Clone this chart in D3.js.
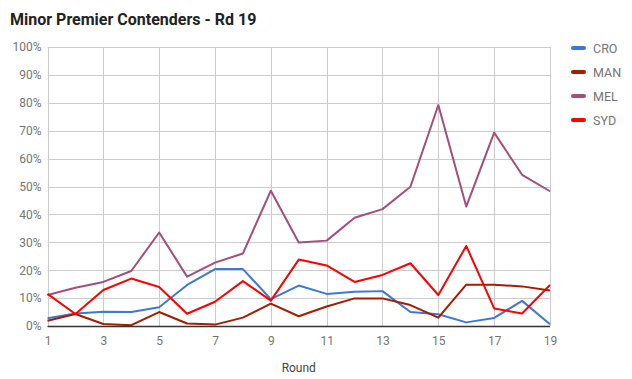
<!DOCTYPE html>
<html><head><meta charset="utf-8">
<script src="https://cdn.jsdelivr.net/npm/d3@7"></script>
<style>body{margin:0;background:#fff;}svg{display:block;font-family:Roboto,sans-serif;}</style>
</head><body><svg id="c" width="632" height="379"></svg>
<script>
const rounds = [1,2,3,4,5,6,7,8,9,10,11,12,13,14,15,16,17,18,19];
const seriesNames = ["CRO","MAN","MEL","SYD"];
const seriesColors = ["#3c78d8","#a61c00","#a64d79","#ff0000"];
const CRO = [2.8,4.5,5.1,5.0,6.7,14.7,20.4,20.4,9.6,14.5,11.5,12.3,12.5,5.0,4.2,1.3,2.9,9.0,0.6];
const MAN = [1.9,4.3,0.7,0.3,5.0,0.9,0.5,3.0,8.0,3.5,7.0,9.9,9.9,7.5,3.0,14.8,14.8,14.2,12.7];
const MEL = [11.1,13.7,15.8,19.7,33.5,17.7,22.7,26.0,48.5,29.9,30.6,38.8,41.9,49.9,79.2,42.8,69.3,54.2,48.3];
const SYD = [11.5,4.3,12.9,17.0,14.0,4.4,8.7,16.1,9.1,23.8,21.7,15.8,18.3,22.5,11.1,28.7,6.3,4.5,14.7];
const xTicks = [1,3,5,7,9,11,13,15,17,19];
const yTicks = [0,10,20,30,40,50,60,70,80,90,100];
const title = "Minor Premier Contenders - Rd 19";
const xTitle = "Round";

const values = [CRO, MAN, MEL, SYD];
const svg = d3.select("#c");
const L = 47.5, R = 550, T = 47, B = 326;
const x = d3.scaleLinear().domain([1,19]).range([L,R]);
const y = d3.scaleLinear().domain([0,100]).range([B,T]);

svg.append("text").attr("x",10).attr("y",25).attr("font-size",16).attr("font-weight","bold").attr("fill","#222").text(title);

// grid
const g = svg.append("g");
g.selectAll(".hg").data(yTicks.filter(d=>d>0)).join("line")
  .attr("x1",L).attr("x2",R).attr("y1",d=>Math.round(y(d))+0.5).attr("y2",d=>Math.round(y(d))+0.5)
  .attr("stroke","#cccccc").attr("stroke-width",1);
g.selectAll(".vg").data(xTicks).join("line")
  .attr("y1",T).attr("y2",B).attr("x1",d=>Math.round(x(d))+0.5).attr("x2",d=>Math.round(x(d))+0.5)
  .attr("stroke","#cccccc").attr("stroke-width",1);

// y labels
const yAxis = d3.axisLeft(y).tickValues(yTicks).tickFormat(d=>d+"%").tickSize(0).tickPadding(6);
const ya = svg.append("g").attr("transform",`translate(${L},0)`).call(yAxis);
ya.select(".domain").remove();
ya.selectAll("text").attr("font-size",12).attr("fill","#757575").attr("font-family","Roboto,sans-serif");

const xAxis = d3.axisBottom(x).tickValues(xTicks).tickSize(0).tickPadding(10);
const xa = svg.append("g").attr("transform",`translate(0,${B})`).call(xAxis);
xa.select(".domain").remove();
xa.selectAll("text").attr("font-size",12).attr("fill","#757575").attr("font-family","Roboto,sans-serif");

svg.append("text").attr("x",(L+R)/2).attr("y",372).attr("text-anchor","middle").attr("font-size",12).attr("fill","#444").text(xTitle);

// lines
const line = d3.line().x((d,i)=>x(rounds[i])).y(d=>y(d));
values.forEach((v,i)=>{
  svg.append("path").datum(v).attr("d",line).attr("fill","none")
    .attr("stroke",seriesColors[i]).attr("stroke-width",2).attr("stroke-linejoin","round");
});

// baseline
svg.append("line").attr("x1",L).attr("x2",R).attr("y1",B+0.5).attr("y2",B+0.5).attr("stroke","#333").attr("stroke-width",1.5);

// legend
const lg = svg.append("g");
seriesNames.forEach((n,i)=>{
  const yy = 48 + i*24;
  lg.append("line").attr("x1",573).attr("x2",584).attr("y1",yy).attr("y2",yy)
    .attr("stroke",seriesColors[i]).attr("stroke-width",4).attr("stroke-linecap","round");
  lg.append("text").attr("x",593).attr("y",yy+4.5).attr("font-size",12.5).attr("fill","#757575").text(n);
});
</script></body></html>
